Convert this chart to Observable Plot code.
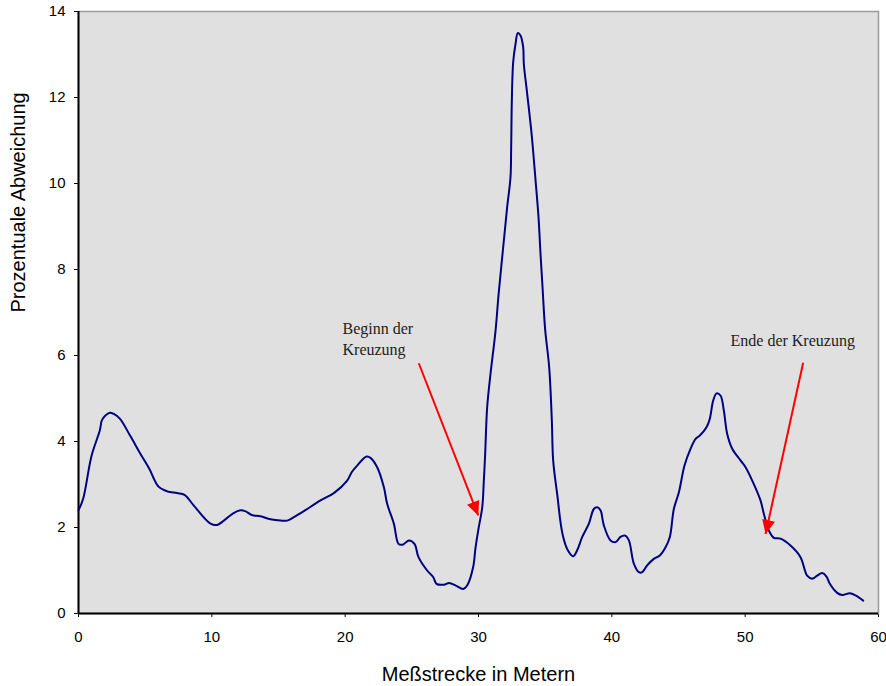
<!DOCTYPE html>
<html>
<head>
<meta charset="utf-8">
<script src="https://cdn.jsdelivr.net/npm/d3@7"></script>
<script src="https://cdn.jsdelivr.net/npm/@observablehq/plot@0.6"></script>
<style>
  html, body { margin: 0; padding: 0; background: white; }
</style>
</head>
<body>
<div id="chart"></div>
<script>
// Measured distance in metres
const meters = [
  0, 0.35, 0.98, 1.6, 1.75, 2.0, 2.35, 2.65, 3.1, 3.9, 4.65, 5.3, 6.0, 6.65, 7.4, 7.95, 8.65, 9.9, 10.4, 10.9,
  11.6, 12.15, 12.5, 13.0, 13.65, 14.4, 15.15, 15.65, 16.15, 16.9, 18.15, 19.15, 20.15, 20.5, 20.9, 21.6, 21.9, 22.4, 22.9, 23.15,
  23.65, 24.0, 24.3, 24.8, 25.2, 25.5, 26.15, 26.6, 26.85, 27.4, 27.8, 28.3, 28.85, 29.15, 29.6, 29.78, 30.0, 30.28, 30.4, 30.5,
  30.65, 30.9, 31.28, 31.5, 31.75, 32.0, 32.15, 32.4, 32.45, 32.5, 32.6, 32.78, 32.95, 33.15, 33.35, 33.4, 33.65, 33.98, 34.28, 34.5,
  34.65, 34.8, 35.0, 35.3, 35.5, 35.6, 35.9, 36.3, 36.7, 37.1, 37.4, 37.78, 38.28, 38.65, 38.9, 39.15, 39.4, 39.9, 40.28, 40.65,
  41.0, 41.28, 41.65, 42.03, 42.28, 42.65, 43.15, 43.6, 44.03, 44.35, 44.65, 45.03, 45.45, 45.9, 46.28, 46.6, 47.1, 47.35, 47.6, 47.85,
  48.15, 48.4, 48.65, 49.03, 49.65, 50.03, 50.53, 51.15, 51.4, 51.78, 52.15, 52.65, 53.4, 54.15, 54.65, 55.03, 55.4, 55.78, 56.1, 56.35,
  56.9, 57.28, 57.85, 58.28, 58.85
];
// Percentage deviation
const deviation = [
  2.4, 2.67, 3.67, 4.26, 4.49, 4.6, 4.67, 4.64, 4.53, 4.12, 3.71, 3.37, 2.95, 2.84, 2.8, 2.76, 2.51, 2.09, 2.06, 2.16,
  2.33, 2.4, 2.38, 2.29, 2.26, 2.19, 2.16, 2.16, 2.24, 2.38, 2.63, 2.8, 3.09, 3.29, 3.44, 3.65, 3.62, 3.4, 2.94, 2.55,
  2.09, 1.62, 1.6, 1.7, 1.62, 1.31, 1.0, 0.85, 0.69, 0.67, 0.71, 0.65, 0.57, 0.65, 1.08, 1.54, 1.97, 2.47, 3.09, 3.71,
  4.8, 5.57, 6.58, 7.4, 8.2, 8.98, 9.45, 10.15, 10.84, 11.93, 12.82, 13.25, 13.5, 13.44, 13.17, 12.78, 12.09, 11.16, 10.07, 9.22,
  8.37, 7.6, 6.6, 5.73, 4.49, 3.56, 2.78, 1.85, 1.47, 1.33, 1.47, 1.78, 2.09, 2.43, 2.47, 2.4, 2.05, 1.7, 1.66, 1.78,
  1.81, 1.7, 1.16, 0.96, 0.96, 1.12, 1.27, 1.35, 1.54, 1.78, 2.43, 2.82, 3.44, 3.83, 4.06, 4.14, 4.33, 4.53, 4.95, 5.12,
  5.07, 4.72, 4.18, 3.83, 3.56, 3.4, 3.09, 2.63, 2.32, 1.93, 1.76, 1.74, 1.58, 1.31, 0.88, 0.81, 0.88, 0.94, 0.86, 0.69,
  0.48, 0.43, 0.47, 0.42, 0.3
];

const xTicks = [0, 10, 20, 30, 40, 50, 60];
const yTicks = [0, 2, 4, 6, 8, 10, 12, 14];

// Annotations
const noteText = ["Beginn der\nKreuzung", "Ende der Kreuzung"];
const noteX = [19.8, 48.9];
const noteY = [6.85, 6.57];
const arrowX1 = [25.52, 54.35];
const arrowY1 = [5.82, 5.83];
const arrowX2 = [29.98, 51.53];
const arrowY2 = [2.28, 1.85];

const xTitle = "Meßstrecke in Metern";
const yTitle = "Prozentuale Abweichung";

const series = meters.map((m, i) => ({m, v: deviation[i]}));
const notes = noteText.map((t, i) => ({t, x: noteX[i], y: noteY[i]}));
const arrows = arrowX1.map((x1, i) => ({x1, y1: arrowY1[i], x2: arrowX2[i], y2: arrowY2[i]}));

const chart = Plot.plot({
  width: 886,
  height: 686,
  marginLeft: 78,
  marginRight: 8,
  marginTop: 11,
  marginBottom: 73,
  style: {
    fontFamily: "'Liberation Sans', Arial, sans-serif",
    fontSize: "15px",
    background: "white",
    color: "black"
  },
  x: {domain: [0, 60], ticks: xTicks, tickSize: 4, tickPadding: 14, label: null, tickFormat: d => String(d)},
  y: {domain: [0, 14], ticks: yTicks, tickSize: 4, tickPadding: 9, label: null, tickFormat: d => String(d)},
  marks: [
    Plot.frame({fill: "#e0e0e0", stroke: "#9a9a9a", strokeWidth: 1.5}),
    Plot.ruleX([0], {stroke: "black", strokeWidth: 2}),
    Plot.ruleY([0], {stroke: "black", strokeWidth: 2}),
    Plot.line(series, {x: "m", y: "v", stroke: "#000080", strokeWidth: 2, curve: "catmull-rom"}),
    Plot.link(arrows, {x1: "x1", y1: "y1", x2: "x2", y2: "y2", stroke: "#ff0000", strokeWidth: 2, markerEnd: "arrow"}),
    Plot.text(notes, {x: "x", y: "y", text: "t", textAnchor: "start", lineAnchor: "top", lineHeight: 1.3,
      fontFamily: "'Liberation Serif', 'Times New Roman', serif", fontSize: 16, fill: "#222"}),
    Plot.text([xTitle], {frameAnchor: "bottom", dy: 67, fontSize: 20, fill: "black"}),
    Plot.text([yTitle], {frameAnchor: "left", dx: -60, rotate: -90, fontSize: 20, fill: "black"})
  ]
});

// Filled triangular arrowheads
chart.querySelectorAll("marker").forEach(mk => {
  mk.setAttribute("markerUnits", "userSpaceOnUse");
  mk.setAttribute("viewBox", "-16 -8 18 16");
  mk.setAttribute("markerWidth", "18");
  mk.setAttribute("markerHeight", "16");
  mk.setAttribute("overflow", "visible");
  mk.setAttribute("fill", "#ff0000");
  mk.setAttribute("stroke", "none");
  mk.querySelectorAll("path").forEach(p => {
    p.setAttribute("d", "M0,0L-14,-6.5L-14,6.5Z");
    p.setAttribute("fill", "#ff0000");
    p.setAttribute("stroke", "none");
  });
});

document.getElementById("chart").appendChild(chart);
</script>
</body>
</html>
